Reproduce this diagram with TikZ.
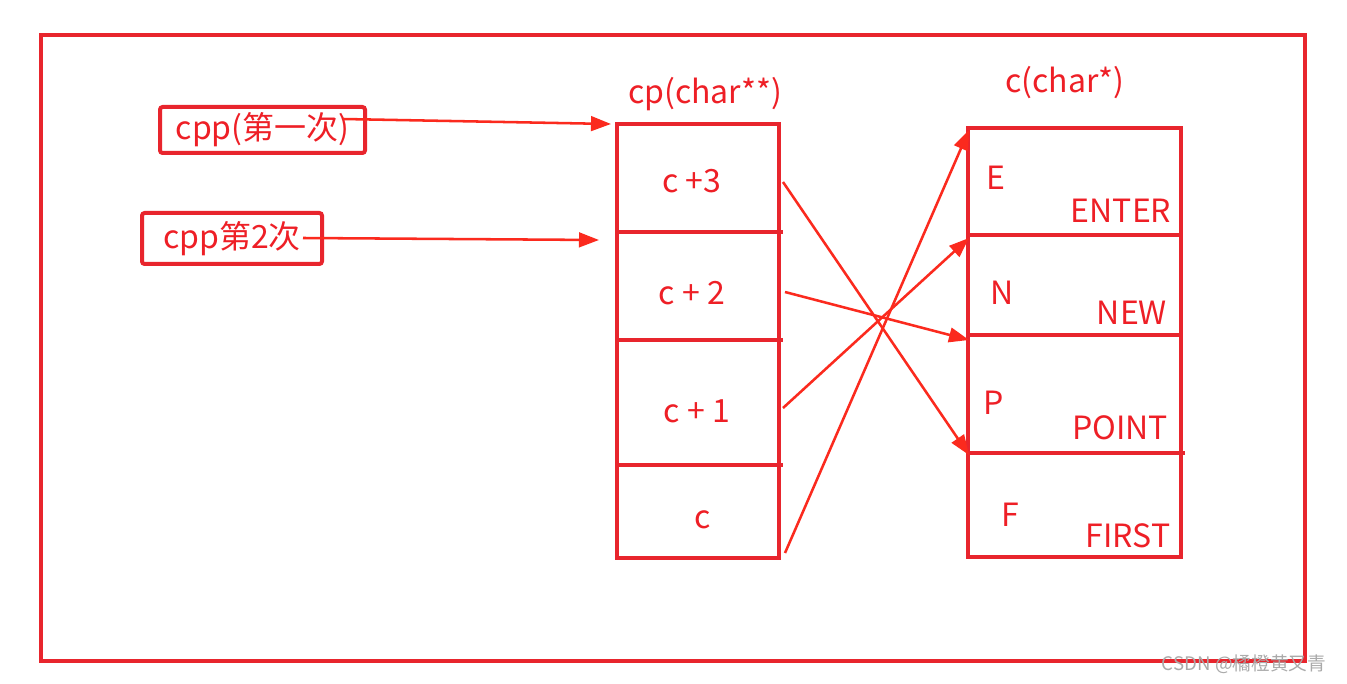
\documentclass[tikz,border=0pt]{standalone}
\usepackage{fontspec}
\usetikzlibrary{arrows.meta}
\newfontfamily\cjk{Noto Sans CJK SC}
\definecolor{Frame}{HTML}{E8252D}
\definecolor{Pen}{HTML}{FB2A1E}
\definecolor{Ink}{HTML}{EE1F26}
\definecolor{Mark}{HTML}{AAAAAA}

\begin{document}
\begin{tikzpicture}[x=0.75pt,y=-0.75pt,
  lbl/.style={font=\cjk\fontsize{24}{28}\selectfont,text=Ink,inner sep=0pt,anchor=base},
  frm/.style={draw=Frame,line width=3pt},
  tag/.style={frm,rounded corners=2pt,font=\cjk\fontsize{24}{28}\selectfont,text=Ink,inner sep=0pt},
  ptr/.style={draw=Pen,line width=1.9pt,-{Triangle[length=15pt,width=11pt]}}]
  \useasboundingbox (0,0) rectangle (1347,684);
  \fill[white] (0,0) rectangle (1347,684);
  \draw[frm] (41,35) rectangle (1305,661);

  % the two pointer names
  \node[tag,minimum width=153.75pt,minimum height=34.5pt] (first) at (262.5,130) {cpp(第一次)};
  \node[tag,minimum width=135pt,minimum height=38.25pt] (second) at (232,238.5) {cpp第2次};

  % cp array
  \draw[frm] (617,124) rectangle (779,558);
  \foreach \y in {232,340,465}
    \draw[frm] (617,\y) -- (783,\y);
  \node[lbl] (cpname) at (705,104) {cp(char**)};
  \node[lbl] (k3) at (692,193) {c\ +3};
  \node[lbl] (k2) at (692,305) {c\ +\ 2};
  \node[lbl] (k1) at (697,422) {c\ +\ 1};
  \node[lbl] (k0) at (703,528) {c};

  % c array
  \draw[frm] (968,128) rectangle (1181,557);
  \foreach \y in {235,335}
    \draw[frm] (968,\y) -- (1181,\y);
  \draw[frm] (968,453) -- (1185,453);
  \node[lbl] (cname) at (1065,93) {c(char*)};
  \node[lbl] (e) at (996,190) {E};
  \node[lbl] (enter) at (1121,223) {ENTER};
  \node[lbl] (n) at (1002,305) {N};
  \node[lbl] (new) at (1132,325) {NEW};
  \node[lbl] (p) at (994,415) {P};
  \node[lbl] (point) at (1120,440) {POINT};
  \node[lbl] (f) at (1010,527) {F};
  \node[lbl] (firstw) at (1128,547) {FIRST};

  % ends of the connectors
  \coordinate (t1) at (343,119);
  \coordinate (h1) at (611,124);
  \coordinate (t2) at (303,238);
  \coordinate (h2) at (599,240);
  \coordinate (o3) at (783,182);
  \coordinate (o2) at (785,292);
  \coordinate (o1) at (783,408);
  \coordinate (o0) at (785,553);
  \coordinate (sF) at (969,455);
  \coordinate (sP) at (969,340);
  \coordinate (sN) at (969,238);
  \coordinate (sE) at (969,130);

  \draw[ptr] (t1) -- (h1);
  \draw[ptr] (t2) -- (h2);
  \draw[ptr] (o3) -- (sF);
  \draw[ptr] (o2) -- (sP);
  \draw[ptr] (o1) -- (sN);
  \draw[ptr] (o0) -- (sE);

  \node[font=\cjk\fontsize{14}{16}\selectfont,text=Mark,inner sep=0pt,anchor=base] (wm) at (1244,670) {CSDN @橘橙黄又青};
\end{tikzpicture}
\end{document}
